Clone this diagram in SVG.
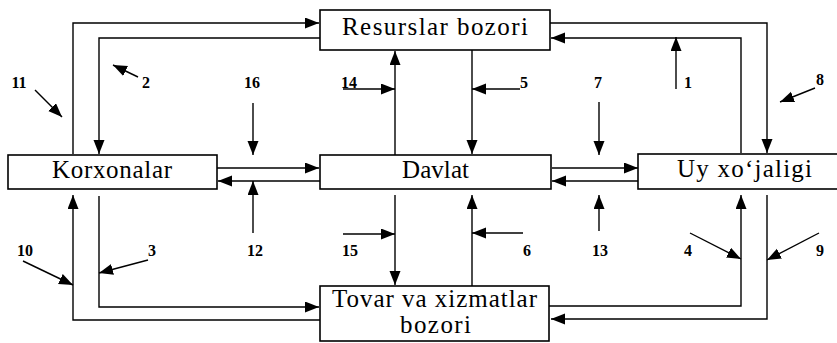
<svg xmlns="http://www.w3.org/2000/svg" width="837" height="343" viewBox="0 0 837 343">
<style>
.box{fill:#fff;stroke:#000;stroke-width:1.6}
.lbl{font-family:"Liberation Serif","Times New Roman",serif;font-size:25px;fill:#000;text-anchor:middle}
.num{font-family:"Liberation Serif","Times New Roman",serif;font-size:16px;font-weight:bold;fill:#000;text-anchor:middle}
.ln{fill:none;stroke:#000;stroke-width:1.4}
</style>
<defs>
<marker id="ah" markerUnits="userSpaceOnUse" markerWidth="15" markerHeight="12" refX="14" refY="5.5" orient="auto">
<path d="M0,0 L14,5.5 L0,11 z" fill="#000"/>
</marker>
</defs>
<rect width="837" height="343" fill="#fff"/>
<g id="connectors">
<path class="ln" d="M73,154 V23 H319" marker-end="url(#ah)"/>
<path class="ln" d="M321,38 H99 V154" marker-end="url(#ah)"/>
<path class="ln" d="M550,23 H767 V153" marker-end="url(#ah)"/>
<path class="ln" d="M741,153 V38 H551" marker-end="url(#ah)"/>
<path class="ln" d="M395,155 V51" marker-end="url(#ah)"/>
<path class="ln" d="M472,50 V154" marker-end="url(#ah)"/>
<path class="ln" d="M217,168 H319" marker-end="url(#ah)"/>
<path class="ln" d="M320,181 H218" marker-end="url(#ah)"/>
<path class="ln" d="M552,168 H638" marker-end="url(#ah)"/>
<path class="ln" d="M638,181 H552" marker-end="url(#ah)"/>
<path class="ln" d="M395,195 V285" marker-end="url(#ah)"/>
<path class="ln" d="M472,286 V195" marker-end="url(#ah)"/>
<path class="ln" d="M99,196 V307 H319" marker-end="url(#ah)"/>
<path class="ln" d="M320,320 H73 V195" marker-end="url(#ah)"/>
<path class="ln" d="M549,306 H741 V195" marker-end="url(#ah)"/>
<path class="ln" d="M767,195 V319 H551" marker-end="url(#ah)"/>
<path class="ln" d="M35,90 L62,117" marker-end="url(#ah)"/>
<path class="ln" d="M138,77 L113,65" marker-end="url(#ah)"/>
<path class="ln" d="M253,103 V155" marker-end="url(#ah)"/>
<path class="ln" d="M343,89 H395" marker-end="url(#ah)"/>
<path class="ln" d="M520,89 H472" marker-end="url(#ah)"/>
<path class="ln" d="M599,102 V155" marker-end="url(#ah)"/>
<path class="ln" d="M676,89 V37" marker-end="url(#ah)"/>
<path class="ln" d="M815,88 L780,102" marker-end="url(#ah)"/>
<path class="ln" d="M23,261 L73,285" marker-end="url(#ah)"/>
<path class="ln" d="M148,260 L99,273" marker-end="url(#ah)"/>
<path class="ln" d="M253,233 V181" marker-end="url(#ah)"/>
<path class="ln" d="M343,234 H395" marker-end="url(#ah)"/>
<path class="ln" d="M523,233 H472" marker-end="url(#ah)"/>
<path class="ln" d="M599,231 V195" marker-end="url(#ah)"/>
<path class="ln" d="M690,233 L741,259" marker-end="url(#ah)"/>
<path class="ln" d="M819,233 L767,260" marker-end="url(#ah)"/>
</g>
<g id="resurslar">
<rect class="box" x="320" y="10" width="230" height="40"/>
<text class="lbl" x="435" y="35" textLength="186" lengthAdjust="spacing">Resurslar bozori</text>
</g>
<g id="korxonalar">
<rect class="box" x="8" y="155" width="209" height="34"/>
<text class="lbl" x="112" y="178" textLength="120" lengthAdjust="spacing">Korxonalar</text>
</g>
<g id="davlat">
<rect class="box" x="320" y="155" width="231" height="34"/>
<text class="lbl" x="435.5" y="178" textLength="67" lengthAdjust="spacing">Davlat</text>
</g>
<g id="uy">
<rect class="box" x="638" y="154" width="210" height="35"/>
<text class="lbl" x="744.5" y="177" textLength="135" lengthAdjust="spacing">Uy xo‘jaligi</text>
</g>
<g id="tovar">
<rect class="box" x="320" y="286" width="229" height="55"/>
<text class="lbl" x="434.5" y="307" textLength="205" lengthAdjust="spacing">Tovar va xizmatlar</text>
<text class="lbl" x="435.5" y="333" textLength="71" lengthAdjust="spacing">bozori</text>
</g>
<g id="labels">
<text class="num" x="19" y="88">11</text>
<text class="num" x="146" y="88">2</text>
<text class="num" x="252" y="88">16</text>
<text class="num" x="349" y="88">14</text>
<text class="num" x="524" y="88">5</text>
<text class="num" x="598" y="88">7</text>
<text class="num" x="688" y="88">1</text>
<text class="num" x="820" y="85">8</text>
<text class="num" x="25" y="256">10</text>
<text class="num" x="152" y="256">3</text>
<text class="num" x="255" y="256">12</text>
<text class="num" x="350" y="256">15</text>
<text class="num" x="527" y="256">6</text>
<text class="num" x="600" y="256">13</text>
<text class="num" x="688" y="256">4</text>
<text class="num" x="820" y="256">9</text>
</g>
</svg>
